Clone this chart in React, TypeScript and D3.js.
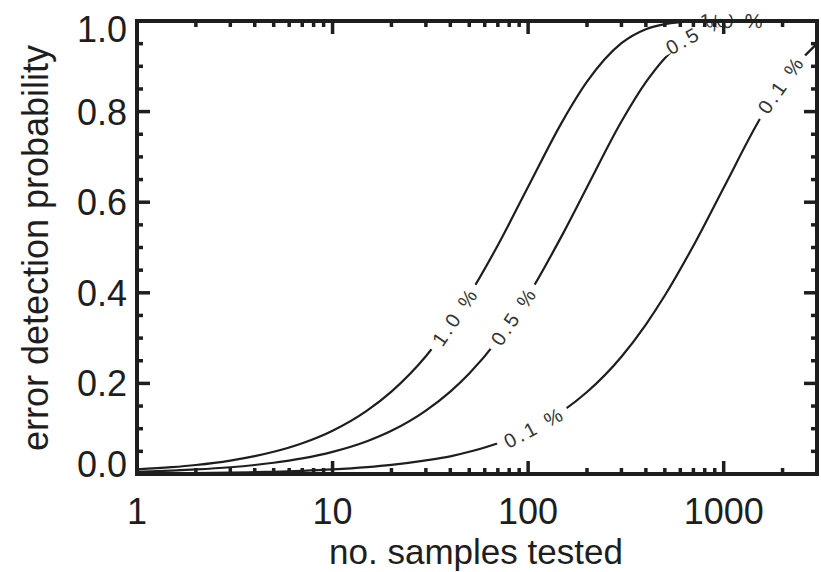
import React from 'react';
import * as d3 from 'd3';

// samples tested (x) and read-off detection probabilities (y) for each error rate
const sampleCounts = [1, 1.5, 2, 3, 4, 5, 7, 10, 15, 20, 30, 40, 50, 70, 100, 150, 200, 300, 400, 500, 700, 1000, 1500, 2000, 3000];
const prob10 = [0.010, 0.015, 0.0199, 0.0297, 0.0394, 0.049, 0.0679, 0.0956, 0.140, 0.182, 0.260, 0.331, 0.395, 0.505, 0.634, 0.779, 0.866, 0.951, 0.982, 0.993, 0.999, 1.0, 1.0, 1.0, 1.0];
const prob05 = [0.005, 0.0075, 0.010, 0.0149, 0.0199, 0.0248, 0.0345, 0.0489, 0.0724, 0.0954, 0.140, 0.182, 0.222, 0.296, 0.394, 0.529, 0.633, 0.778, 0.865, 0.918, 0.970, 0.993, 0.999, 1.0, 1.0];
const prob01 = [0.001, 0.0015, 0.002, 0.003, 0.004, 0.005, 0.007, 0.010, 0.015, 0.020, 0.030, 0.039, 0.049, 0.068, 0.095, 0.139, 0.181, 0.259, 0.330, 0.394, 0.504, 0.632, 0.777, 0.865, 0.950];
const seriesNames = ['1.0 %', '0.5 %', '0.1 %'];
const labelCounts10 = [42, 1090];
const labelCounts05 = [84, 713];
const labelCounts01 = [106, 1950];

const yTicks = [0, 0.2, 0.4, 0.6, 0.8, 1.0];
const yTickLabels = ['0.0', '0.2', '0.4', '0.6', '0.8', '1.0'];
const xTicks = [1, 10, 100, 1000];
const xTickLabels = ['1', '10', '100', '1000'];
const xTitle = 'no. samples tested';
const yTitle = 'error detection probability';

const W = 821;
const H = 572;
const L = 137, R = 817, T = 21, B = 474;
const INK = '#1e1e1e';
const FONT = '"Liberation Sans", Arial, Helvetica, sans-serif';

function valueAt(vals: number[], n: number) {
  const ln = Math.log10(n);
  for (let i = 0; i < sampleCounts.length - 1; i++) {
    const a = Math.log10(sampleCounts[i]), b = Math.log10(sampleCounts[i + 1]);
    if (ln >= a && ln <= b) {
      const t = (ln - a) / (b - a);
      return vals[i] + t * (vals[i + 1] - vals[i]);
    }
  }
  return vals[vals.length - 1];
}

export default function App() {
  const x = d3.scaleLog().domain([1, 3000]).range([L, R]);
  const y = d3.scaleLinear().domain([0, 1]).range([B, T]);

  const line = d3.line<[number, number]>()
    .x(d => x(d[0]))
    .y(d => y(d[1]))
    .curve(d3.curveMonotoneX);

  const series = [
    { name: seriesNames[0], vals: prob10, labels: labelCounts10 },
    { name: seriesNames[1], vals: prob05, labels: labelCounts05 },
    { name: seriesNames[2], vals: prob01, labels: labelCounts01 },
  ];

  const xMinor: number[] = [];
  for (let d = 1; d <= 1000; d *= 10) {
    for (let k = 2; k <= 9; k++) {
      const v = d * k;
      if (v < 3000) xMinor.push(v);
    }
  }
  const yMinor = d3.range(0, 21).map(i => i * 0.05).filter(v => Math.round(v * 100) % 20 !== 0);

  const labelFont = 20;
  const labelSpacing = 3;

  return (
    <svg width={W} height={H} style={{ position: 'absolute', left: 0, top: 0, background: '#fff' }}>
      <rect x={0} y={0} width={W} height={H} fill="#fff" />
      {series.map((s, i) => (
        <path
          key={'c' + i}
          d={line(sampleCounts.map((n, j) => [n, s.vals[j]] as [number, number])) || ''}
          fill="none"
          stroke={INK}
          strokeWidth={2.2}
        />
      ))}
      {series.map((s, i) =>
        s.labels.map((n, k) => {
          const px = x(n);
          const py = y(valueAt(s.vals, n));
          const p1x = x(n / 1.15), p1y = y(valueAt(s.vals, n / 1.15));
          const p2x = x(n * 1.15), p2y = y(valueAt(s.vals, n * 1.15));
          const ang = (Math.atan2(p2y - p1y, p2x - p1x) * 180) / Math.PI;
          const tw = 78;
          return (
            <g key={'l' + i + '-' + k} transform={`translate(${px},${py}) rotate(${ang})`}>
              <rect x={-tw / 2} y={-5} width={tw} height={10} fill="#fff" />
              <text
                x={labelSpacing / 2}
                y={0}
                dy="0.35em"
                textAnchor="middle"
                fontFamily={FONT}
                fontSize={labelFont}
                letterSpacing={labelSpacing}
                fill="#333"
              >
                {s.name}
              </text>
            </g>
          );
        })
      )}
      <rect x={L} y={T} width={R - L} height={B - T} fill="none" stroke={INK} strokeWidth={4} />
      {yTicks.map((v, i) => (
        <g key={'yt' + i}>
          <line x1={L} x2={L + 13} y1={y(v)} y2={y(v)} stroke={INK} strokeWidth={3.5} />
          <line x1={R} x2={R - 13} y1={y(v)} y2={y(v)} stroke={INK} strokeWidth={3.5} />
        </g>
      ))}
      {yMinor.map((v, i) => (
        <g key={'ym' + i}>
          <line x1={L} x2={L + 6} y1={y(v)} y2={y(v)} stroke={INK} strokeWidth={3.5} />
          <line x1={R} x2={R - 6} y1={y(v)} y2={y(v)} stroke={INK} strokeWidth={3.5} />
        </g>
      ))}
      {xTicks.map((v, i) => (
        <g key={'xt' + i}>
          <line x1={x(v)} x2={x(v)} y1={B} y2={B - 13} stroke={INK} strokeWidth={3.5} />
          <line x1={x(v)} x2={x(v)} y1={T} y2={T + 13} stroke={INK} strokeWidth={3.5} />
        </g>
      ))}
      {xMinor.map((v, i) => (
        <g key={'xm' + i}>
          <line x1={x(v)} x2={x(v)} y1={B} y2={B - 6} stroke={INK} strokeWidth={3.5} />
          <line x1={x(v)} x2={x(v)} y1={T} y2={T + 6} stroke={INK} strokeWidth={3.5} />
        </g>
      ))}
      {yTicks.map((v, i) => (
        <text
          key={'yl' + i}
          x={127}
          y={y(v) + 13 + (i === 0 ? -10 : i === yTicks.length - 1 ? 8 : 0)}
          textAnchor="end"
          fontFamily={FONT}
          fontSize={36}
          fill={INK}
        >
          {yTickLabels[i]}
        </text>
      ))}
      {xTicks.map((v, i) => (
        <text
          key={'xl' + i}
          x={x(v)}
          y={524}
          textAnchor="middle"
          fontFamily={FONT}
          fontSize={36}
          fill={INK}
        >
          {xTickLabels[i]}
        </text>
      ))}
      <text x={476} y={564} textAnchor="middle" fontFamily={FONT} fontSize={35} fill={INK}>
        {xTitle}
      </text>
      <text
        transform="translate(48,248) rotate(-90)"
        textAnchor="middle"
        fontFamily={FONT}
        fontSize={36}
        fill={INK}
      >
        {yTitle}
      </text>
    </svg>
  );
}
